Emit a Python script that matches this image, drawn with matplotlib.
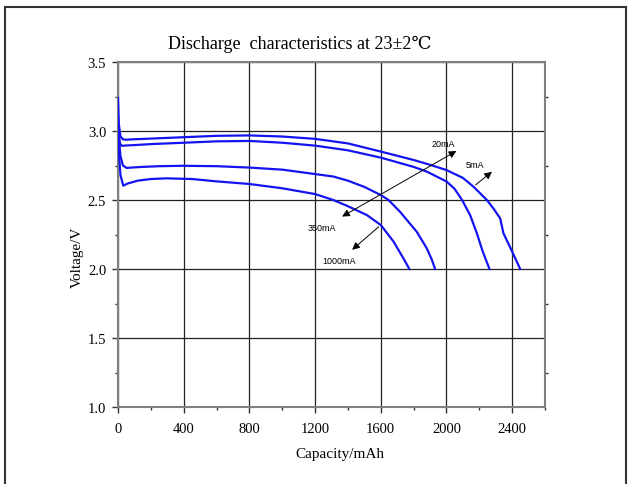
import matplotlib
matplotlib.use('Agg')
import matplotlib.pyplot as plt
from matplotlib.patches import Rectangle
from matplotlib.ticker import MultipleLocator

serif = ['Liberation Serif', 'DejaVu Serif', 'DejaVu Sans']
sans = ['Liberation Sans', 'DejaVu Sans']

# capacity (mAh) / voltage (V)
x_5ma = [0, 5, 15, 30, 45, 100, 200, 400, 600, 800, 1000, 1200, 1400, 1600, 1800, 1900,
         2000, 2100, 2164, 2246, 2285, 2327, 2347, 2400, 2449]
v_5ma = [3.24, 3.05, 2.96, 2.94, 2.937, 2.94, 2.945, 2.955, 2.965, 2.968, 2.96, 2.943, 2.91,
         2.851, 2.79, 2.755, 2.717, 2.66, 2.597, 2.5, 2.44, 2.367, 2.259, 2.126, 2.0]

x_20ma = [0, 5, 12, 22, 50, 100, 200, 400, 600, 800, 1000, 1200, 1400, 1600, 1800, 1880,
          2002, 2050, 2095, 2144, 2185, 2221, 2262]
v_20ma = [3.1, 2.97, 2.91, 2.893, 2.895, 2.898, 2.905, 2.915, 2.925, 2.928, 2.915, 2.894,
          2.86, 2.807, 2.74, 2.706, 2.633, 2.58, 2.5, 2.391, 2.259, 2.126, 2.0]

x_350ma = [0, 5, 15, 30, 53, 80, 150, 250, 400, 600, 800, 1000, 1200, 1311, 1400, 1500,
           1600, 1647, 1717, 1819, 1880, 1910, 1931]
v_350ma = [3.05, 2.95, 2.82, 2.75, 2.732, 2.735, 2.74, 2.745, 2.748, 2.745, 2.735, 2.72,
           2.688, 2.67, 2.64, 2.595, 2.536, 2.5, 2.415, 2.27, 2.15, 2.07, 2.0]

x_1000ma = [0, 5, 15, 32, 60, 120, 200, 296, 452, 600, 800, 1000, 1200, 1311, 1400, 1515,
            1600, 1677, 1738, 1774]
v_1000ma = [3.0, 2.85, 2.68, 2.604, 2.62, 2.64, 2.652, 2.657, 2.652, 2.635, 2.616, 2.585,
            2.543, 2.5, 2.455, 2.391, 2.319, 2.2, 2.077, 2.0]

curves = [(x_5ma, v_5ma), (x_20ma, v_20ma), (x_350ma, v_350ma), (x_1000ma, v_1000ma)]

fig = plt.figure(figsize=(6.3, 4.85), dpi=100)
ax = fig.add_axes([118/630, 1 - 408/485, (545 - 118)/630, (408 - 63)/485])

for xs, vs in curves:
    ax.plot(xs, vs, color='#1414f0', lw=1.6, zorder=3)

ax.set_xlim(0, 2600)
ax.set_ylim(1.0, 3.5)
ax.xaxis.set_major_locator(MultipleLocator(400))
ax.xaxis.set_minor_locator(MultipleLocator(200))
ax.yaxis.set_major_locator(MultipleLocator(0.5))
ax.yaxis.set_minor_locator(MultipleLocator(0.25))
ax.yaxis.set_major_formatter(matplotlib.ticker.FormatStrFormatter('%.1f'))
ax.grid(True, which='major', color='#222222', lw=0.9)
for s in ax.spines.values():
    s.set_color('#808080')
    s.set_linewidth(1.5)
ax.tick_params(which='major', direction='out', length=4.5, width=1, color='#333333',
               labelsize=10.5)
ax.tick_params(axis='x', which='major', pad=6)
ax.tick_params(axis='y', which='major', pad=4)
ax.tick_params(which='minor', direction='out', length=2.5, width=1, color='#333333')
ax.tick_params(axis='y', which='minor', right=True)
for lab in ax.get_xticklabels() + ax.get_yticklabels():
    lab.set_family(serif)

ax.set_xlabel('Capacity/mAh', family=serif, fontsize=11)
ax.xaxis.set_label_coords(0.52, -0.115)
ax.set_ylabel('Voltage/V', family=serif, fontsize=11)
ax.yaxis.set_label_coords(-0.08, 1 - (257 - 63) / (408 - 63))
fig.text(300/630, 1 - 44/485, 'Discharge  characteristics at 23±2\u2103', family=serif,
         fontsize=13, ha='center', va='center')

# arrows and labels
aprops = dict(color='black', lw=0.7, mutation_scale=11)
ax.annotate('', xy=(2075, 2.865), xytext=(1350, 2.37),
            arrowprops=dict(arrowstyle='<|-|>', **aprops), zorder=4)
ax.annotate('', xy=(2290, 2.717), xytext=(2164, 2.597),
            arrowprops=dict(arrowstyle='-|>', **aprops), zorder=4)
ax.annotate('', xy=(1413, 2.126), xytext=(1600, 2.319),
            arrowprops=dict(arrowstyle='-|>', **aprops), zorder=4)
for txt, tx, ty in [('20mA', 1982, 2.91), ('5mA', 2175, 2.76),
                    ('350mA', 1241, 2.30), ('1000mA', 1348, 2.06)]:
    ax.text(tx, ty, txt, family=sans, fontsize=6.5, ha='center', va='center', zorder=5)

fig.patches.append(Rectangle((5/630, -0.02), 621/630, 1 - 8/485 + 0.02, transform=fig.transFigure,
                             fill=False, edgecolor='#333333', lw=1.5))

fig.savefig('out.png', dpi=100)
